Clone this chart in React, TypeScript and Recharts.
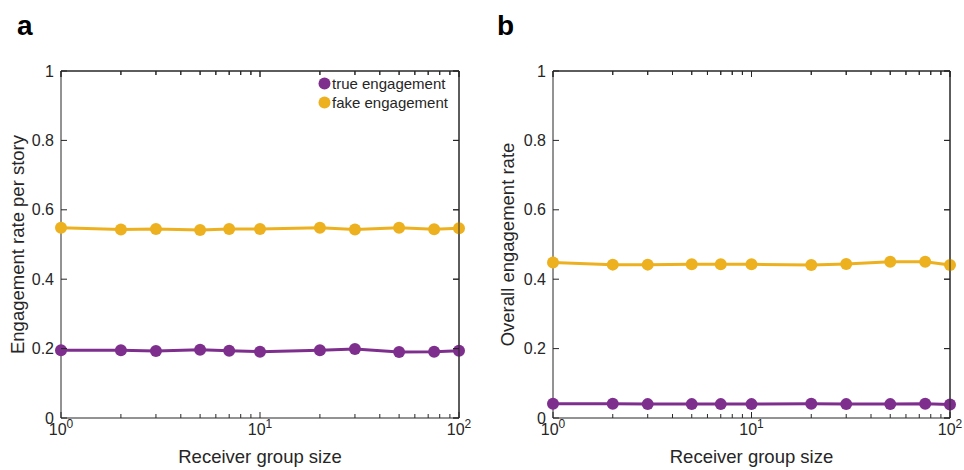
import React from 'react';
import {LineChart, Line, XAxis, YAxis, Legend, ReferenceLine} from 'recharts';

const receiverSizes = [1, 2, 3, 5, 7, 10, 20, 30, 50, 75, 100];
const trueRatePerStory = [0.195, 0.195, 0.193, 0.197, 0.194, 0.191, 0.195, 0.199, 0.19, 0.191, 0.194];
const fakeRatePerStory = [0.548, 0.543, 0.545, 0.542, 0.545, 0.545, 0.548, 0.543, 0.548, 0.544, 0.547];
const trueOverall = [0.041, 0.041, 0.04, 0.04, 0.04, 0.04, 0.041, 0.04, 0.04, 0.041, 0.039];
const fakeOverall = [0.448, 0.442, 0.442, 0.443, 0.443, 0.443, 0.441, 0.444, 0.45, 0.45, 0.441];

const yTicks = [0, 0.2, 0.4, 0.6, 0.8, 1];
const xMajor = [1, 10, 100];
const xTicks = [1, 2, 3, 4, 5, 6, 7, 8, 9, 10, 20, 30, 40, 50, 60, 70, 80, 90, 100];
const seriesNames = ['true engagement', 'fake engagement'];

const PURPLE = '#7e2f8e';
const YELLOW = '#edb120';
const INK = '#262626';
const FONT = '"Liberation Sans", Arial, Helvetica, sans-serif';

const PLOT_TOP = 71;
const PLOT_BOTTOM = 418;
const HEIGHT = 470;

const panelBoxes = [
    {left: 61, right: 459},
    {left: 553, right: 950},
];

// x ticks point inward on both the bottom and the top edge of the box
const BottomTick = (props: any) => {
    const {x, y, payload, top} = props;
    const v = payload.value;
    const major = xMajor.includes(v);
    const len = major ? 6 : 4;
    return (
        <g>
            <line x1={x} x2={x} y1={y} y2={y - len} stroke={INK} strokeWidth={1}/>
            <line x1={x} x2={x} y1={top} y2={top + len} stroke={INK} strokeWidth={1}/>
            {major && (
                <text x={x} y={y + 17} textAnchor="middle" fill={INK} fontSize={16} fontFamily={FONT}>
                    10<tspan dy={-7} fontSize={12}>{Math.round(Math.log10(v))}</tspan>
                </text>
            )}
        </g>
    );
};

// y ticks point inward on the left and right edge
const LeftTick = (props: any) => {
    const {x, y, payload, right} = props;
    return (
        <g>
            <line x1={x} x2={x + 6} y1={y} y2={y} stroke={INK} strokeWidth={1}/>
            <line x1={right} x2={right - 6} y1={y} y2={y} stroke={INK} strokeWidth={1}/>
            <text x={x - 7} y={y} dy="0.35em" textAnchor="end" fill={INK} fontSize={16} fontFamily={FONT}>
                {String(payload.value)}
            </text>
        </g>
    );
};

const LegendBox = () => (
    <div style={{fontFamily: FONT, fontSize: 15, color: INK, lineHeight: '19px'}}>
        {seriesNames.map((name, i) => (
            <div key={name} style={{display: 'flex', alignItems: 'center'}}>
                <svg width={13} height={13} style={{marginRight: 1}}>
                    <circle cx={6.5} cy={6.5} r={6} fill={i === 0 ? PURPLE : YELLOW}/>
                </svg>
                <span>{name}</span>
            </div>
        ))}
    </div>
);

interface PanelProps {
    left: number;
    width: number;
    plotLeft: number;
    plotRight: number;
    yLabel: string;
    yLabelX: number;
    trueVals: number[];
    fakeVals: number[];
    showLegend?: boolean;
}

// plotLeft / plotRight / yLabelX are page coordinates; converted to chart-local here
const Panel: React.FC<PanelProps> = ({left, width, plotLeft, plotRight, yLabel, yLabelX, trueVals, fakeVals, showLegend}) => {
    const data = receiverSizes.map((n, i) => ({n, trueEng: trueVals[i], fakeEng: fakeVals[i]}));
    const yAxisW = 40;
    const xAxisH = 30;
    const pl = plotLeft - left;
    const pr = plotRight - left;
    const midY = (PLOT_TOP + PLOT_BOTTOM) / 2;
    const midX = (pl + pr) / 2;
    const labelX = yLabelX - left;

    return (
        <div style={{position: 'absolute', left, top: 0}}>
            <LineChart
                width={width}
                height={HEIGHT}
                data={data}
                margin={{top: PLOT_TOP, left: pl - yAxisW, right: width - pr, bottom: HEIGHT - PLOT_BOTTOM - xAxisH}}
            >
                <XAxis
                    dataKey="n"
                    type="number"
                    scale="log"
                    domain={[1, 100]}
                    ticks={xTicks}
                    interval={0}
                    height={xAxisH}
                    tickSize={0}
                    tickMargin={0}
                    tickLine={false}
                    tick={<BottomTick top={PLOT_TOP}/>}
                    axisLine={{stroke: INK, strokeWidth: 1}}
                    label={{
                        content: () => (
                            <text x={midX} y={PLOT_BOTTOM + 45} textAnchor="middle" fill={INK} fontSize={18.5} fontFamily={FONT}>
                                Receiver group size
                            </text>
                        ),
                    }}
                />
                <YAxis
                    type="number"
                    domain={[0, 1]}
                    ticks={yTicks}
                    interval={0}
                    width={yAxisW}
                    tickSize={0}
                    tickMargin={0}
                    tickLine={false}
                    tick={<LeftTick right={pr}/>}
                    axisLine={{stroke: INK, strokeWidth: 1}}
                    label={{
                        content: () => (
                            <text
                                x={labelX}
                                y={midY}
                                dy="0.35em"
                                textAnchor="middle"
                                transform={`rotate(-90, ${labelX}, ${midY})`}
                                fill={INK}
                                fontSize={18.5}
                                fontFamily={FONT}
                            >
                                {yLabel}
                            </text>
                        ),
                    }}
                />
                <ReferenceLine y={1} stroke={INK} strokeWidth={1}/>
                <ReferenceLine x={100} stroke={INK} strokeWidth={1}/>
                {showLegend && (
                    <Legend
                        layout="vertical"
                        verticalAlign="middle"
                        align="center"
                        content={<LegendBox/>}
                        wrapperStyle={{top: 74, left: 318, width: 'auto', right: 'auto', bottom: 'auto'}}
                    />
                )}
                <Line
                    dataKey="trueEng"
                    name={seriesNames[0]}
                    stroke={PURPLE}
                    strokeWidth={3}
                    dot={{r: 6, fill: PURPLE, stroke: PURPLE, strokeWidth: 0}}
                    isAnimationActive={false}
                />
                <Line
                    dataKey="fakeEng"
                    name={seriesNames[1]}
                    stroke={YELLOW}
                    strokeWidth={3}
                    dot={{r: 6, fill: YELLOW, stroke: YELLOW, strokeWidth: 0}}
                    isAnimationActive={false}
                />
            </LineChart>
        </div>
    );
};

// box outline + mirrored ticks on the top and right edges (MATLAB "box on")
const Frame = ({left, right}: {left: number; right: number}) => {
    const w = right - left;
    const h = PLOT_BOTTOM - PLOT_TOP;
    return (
        <g>
            <line x1={left} x2={right} y1={PLOT_TOP} y2={PLOT_TOP} stroke={INK} strokeWidth={1}/>
            <line x1={right} x2={right} y1={PLOT_TOP} y2={PLOT_BOTTOM} stroke={INK} strokeWidth={1}/>
            {xTicks.map((v) => {
                const x = left + (Math.log10(v) / 2) * w;
                const len = xMajor.includes(v) ? 6 : 4;
                return <line key={`t${v}`} x1={x} x2={x} y1={PLOT_TOP} y2={PLOT_TOP + len} stroke={INK} strokeWidth={1}/>;
            })}
            {yTicks.map((v) => {
                const y = PLOT_BOTTOM - v * h;
                return <line key={`r${v}`} x1={right} x2={right - 6} y1={y} y2={y} stroke={INK} strokeWidth={1}/>;
            })}
        </g>
    );
};

const App: React.FC = () => {
    return (
        <div style={{position: 'absolute', left: 0, top: 0, width: 964, height: HEIGHT, background: '#fff'}}>
            <Panel
                left={0}
                width={480}
                plotLeft={panelBoxes[0].left}
                plotRight={panelBoxes[0].right}
                yLabel="Engagement rate per story"
                yLabelX={18}
                trueVals={trueRatePerStory}
                fakeVals={fakeRatePerStory}
                showLegend
            />
            <Panel
                left={480}
                width={484}
                plotLeft={panelBoxes[1].left}
                plotRight={panelBoxes[1].right}
                yLabel="Overall engagement rate"
                yLabelX={508}
                trueVals={trueOverall}
                fakeVals={fakeOverall}
            />
            <svg width={964} height={HEIGHT} style={{position: 'absolute', left: 0, top: 0, pointerEvents: 'none'}}>
                {panelBoxes.map((b) => <Frame key={b.left} left={b.left} right={b.right}/>)}
                <text x={17} y={35} fontSize={28} fontWeight="bold" fontFamily={FONT} fill="#000">a</text>
                <text x={497} y={35} fontSize={28} fontWeight="bold" fontFamily={FONT} fill="#000">b</text>
            </svg>
        </div>
    );
};

export default App;
